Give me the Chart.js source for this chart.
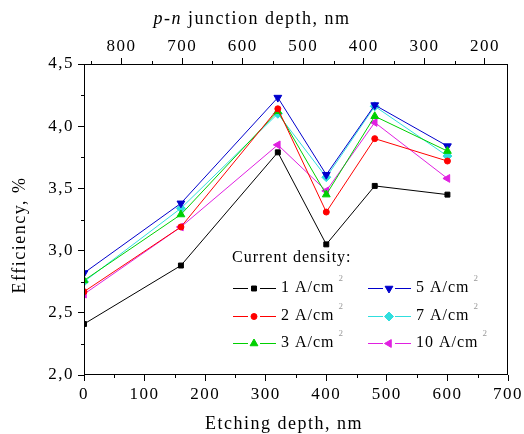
<!DOCTYPE html>
<html>
<head>
<meta charset="utf-8">
<script src="https://cdn.jsdelivr.net/npm/chart.js@4/dist/chart.umd.min.js"></script>
<style>
  html, body { margin: 0; padding: 0; background: #fff; }
  #wrap { width: 524px; height: 434px; }
</style>
</head>
<body>
<div id="wrap"><canvas id="canvas" width="524" height="434"></canvas></div>
<script>
const etchDepth = [0, 160, 320, 400, 480, 600];
const currentDensity = [1, 2, 3, 5, 7, 10];
const eff1 = [2.41, 2.88, 3.79, 3.05, 3.52, 3.45];
const eff2 = [2.67, 3.19, 4.14, 3.31, 3.90, 3.72];
const eff3 = [2.76, 3.29, 4.12, 3.45, 4.08, 3.80];
const eff5 = [2.82, 3.38, 4.23, 3.61, 4.17, 3.84];
const eff7 = [2.75, 3.34, 4.10, 3.59, 4.16, 3.76];
const eff10 = [2.65, 3.19, 3.85, 3.48, 4.03, 3.58];
const junctionTicks = [800, 700, 600, 500, 400, 300, 200];

const SERIF = '"Liberation Serif", "DejaVu Serif", serif';
const series = [eff1, eff2, eff3, eff5, eff7, eff10];
const colors = ['#000000', '#ff0000', '#00d000', '#0000cc', '#30dede', '#e020e0'];
const styles = ['rect', 'circle', 'triangle', 'triangle', 'rectRot', 'triangle'];
const rotations = [0, 0, 0, 180, 0, 270];
const radii = [3.5, 3, 4.5, 4.5, 4.5, 4.5];

let datasets = series.map(function (vals, i) {
    return {
        label: currentDensity[i] + ' A/cm',
        data: etchDepth.map((x, j) => ({x: x, y: vals[j]})),
        borderColor: colors[i],
        backgroundColor: colors[i],
        borderWidth: 1,
        pointStyle: styles[i],
        pointRotation: rotations[i],
        pointRadius: radii[i],
        pointBorderWidth: 1,
        tension: 0
    };
});

// titles, legend, frame and minor ticks
const extras = {
    id: 'extras',
    beforeDraw(chart) {
        chart.ctx.letterSpacing = '1.5px';
    },
    afterDraw(chart) {
        const ctx = chart.ctx;
        const a = chart.chartArea;
        const sx = chart.scales.x, sy = chart.scales.y, st = chart.scales.x2;
        ctx.save();
        ctx.strokeStyle = '#000';
        ctx.fillStyle = '#000';
        ctx.lineWidth = 1;
        // frame
        ctx.strokeRect(a.left + 0.5, a.top + 0.5, a.right - a.left - 1, a.bottom - a.top - 1);
        // minor ticks
        ctx.beginPath();
        for (let v = 50; v < 700; v += 100) {
            let px = Math.round(sx.getPixelForValue(v)) + 0.5;
            ctx.moveTo(px, a.bottom); ctx.lineTo(px, a.bottom + 3);
        }
        for (let v = 250; v <= 850; v += 100) {
            let px = Math.round(st.getPixelForValue(v)) + 0.5;
            ctx.moveTo(px, a.top); ctx.lineTo(px, a.top - 3);
        }
        for (let v = 2.25; v < 4.5; v += 0.5) {
            let py = Math.round(sy.getPixelForValue(v)) + 0.5;
            ctx.moveTo(a.left, py); ctx.lineTo(a.left - 3, py);
        }
        ctx.stroke();

        // axis titles
        ctx.letterSpacing = '1.5px';
        ctx.textBaseline = 'middle';
        ctx.font = '18px ' + SERIF;
        ctx.textAlign = 'center';
        ctx.fillText('Etching depth, nm', 284, 424);

        ctx.save();
        ctx.translate(20, 235);
        ctx.rotate(-Math.PI / 2);
        ctx.fillText('Efficiency, %', 0, 0);
        ctx.restore();

        ctx.textAlign = 'left';
        ctx.font = 'italic 18px ' + SERIF;
        let w1 = ctx.measureText('p-n').width;
        ctx.font = '18px ' + SERIF;
        let w2 = ctx.measureText(' junction depth, nm').width;
        let x0 = 252 - (w1 + w2) / 2;
        ctx.font = 'italic 18px ' + SERIF;
        ctx.fillText('p-n', x0, 19);
        ctx.font = '18px ' + SERIF;
        ctx.fillText(' junction depth, nm', x0 + w1, 19);

        // legend
        ctx.letterSpacing = '1px';
        ctx.font = '16px ' + SERIF;
        ctx.fillText('Current density:', 232, 258);
        const rows = [288, 316, 343];
        chart.data.datasets.forEach(function (ds, i) {
            let col = Math.floor(i / 3);
            let y = rows[i % 3];
            let lx = col === 0 ? 233 : 368;
            let mx = lx + 21;
            ctx.strokeStyle = ds.borderColor;
            ctx.fillStyle = ds.backgroundColor;
            ctx.lineWidth = 1;
            ctx.beginPath();
            ctx.moveTo(lx, y + 0.5); ctx.lineTo(mx - 6, y + 0.5);
            ctx.moveTo(mx + 6, y + 0.5); ctx.lineTo(lx + 43, y + 0.5);
            ctx.stroke();
            Chart.helpers.drawPoint(ctx, {
                pointStyle: ds.pointStyle,
                rotation: ds.pointRotation,
                radius: ds.pointRadius,
                borderWidth: 1
            }, mx, y + 0.5);
            ctx.fillStyle = '#000';
            ctx.font = '16px ' + SERIF;
            let tx = lx + 48;
            ctx.fillText(ds.label, tx, y);
            let tw = ctx.measureText(ds.label).width;
            ctx.fillStyle = '#999';
            ctx.font = '9px ' + SERIF;
            ctx.fillText('2', tx + tw + 4, y - 9);
        });
        ctx.restore();
    }
};

const tickFont = {family: SERIF, size: 17};
let ctx = document.getElementById('canvas').getContext('2d');
let myChart = new Chart(ctx, {
    type: 'line',
    data: {datasets: datasets},
    options: {
        responsive: false,
        animation: false,
        layout: {padding: {right: 16, left: 0, top: 0, bottom: 0}},
        plugins: {legend: {display: false}, tooltip: {enabled: false}},
        scales: {
            x: {
                type: 'linear',
                position: 'bottom',
                min: 0, max: 700,
                ticks: {stepSize: 100, color: '#000', font: tickFont, padding: 3},
                grid: {drawOnChartArea: false, drawTicks: true, tickLength: 6, color: '#000'},
                border: {display: false},
                afterFit(scale) { scale.height = 59; }
            },
            x2: {
                type: 'linear',
                position: 'top',
                reverse: true,
                min: 162, max: 862,
                afterBuildTicks(scale) {
                    scale.ticks = junctionTicks.map(v => ({value: v}));
                },
                ticks: {color: '#000', font: tickFont, padding: 1},
                grid: {drawOnChartArea: false, drawTicks: true, tickLength: 6, color: '#000'},
                border: {display: false},
                afterFit(scale) { scale.height = 64; }
            },
            y: {
                min: 2.0, max: 4.5,
                ticks: {
                    stepSize: 0.5, color: '#000', font: tickFont, padding: 4,
                    callback: v => v.toFixed(1).replace('.', ',')
                },
                grid: {drawOnChartArea: false, drawTicks: true, tickLength: 6, color: '#000'},
                border: {display: false},
                afterFit(scale) { scale.width = 84; }
            }
        }
    },
    plugins: [extras]
});
</script>
</body>
</html>
